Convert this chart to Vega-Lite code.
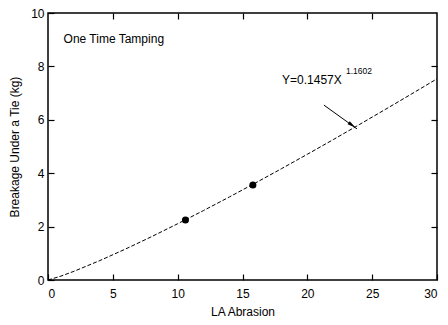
{
  "$schema": "https://vega.github.io/schema/vega-lite/v6.json",
  "width": 389,
  "height": 267,
  "autosize": {"type": "none"},
  "padding": {"left": 48, "top": 13, "right": 11, "bottom": 45},
  "background": "white",
  "config": {
    "view": {"stroke": "black", "strokeWidth": 1.5},
    "font": "Liberation Sans",
    "axis": {"grid": false, "domain": false, "ticks": true, "tickSize": 6, "tickWidth": 1.2, "tickColor": "black", "offset": -6, "labelColor": "black", "titleColor": "black", "labelFont": "Liberation Sans", "titleFont": "Liberation Sans", "labelFontSize": 12, "titleFontSize": 12, "titleFontWeight": "normal"}
  },
  "datasets": {
    "curve": [
      {"x": 0, "y": 0}, {"x": 1, "y": 0.1457}, {"x": 2, "y": 0.3256}, {"x": 4, "y": 0.728},
      {"x": 6, "y": 1.165}, {"x": 8, "y": 1.626}, {"x": 10, "y": 2.107}, {"x": 12, "y": 2.603},
      {"x": 14, "y": 3.113}, {"x": 16, "y": 3.635}, {"x": 18, "y": 4.167}, {"x": 20, "y": 4.709},
      {"x": 22, "y": 5.259}, {"x": 24, "y": 5.818}, {"x": 26, "y": 6.385}, {"x": 28, "y": 6.957},
      {"x": 30, "y": 7.536}
    ],
    "pts": [{"x": 10.6, "y": 2.25}, {"x": 15.8, "y": 3.56}],
    "arrow": [{"x": 21.28, "y": 6.55, "x2": 23.83, "y2": 5.66}],
    "head": [{"x": 23.45, "y": 5.8}],
    "labels": [
      {"x": 1.2, "y": 9.03, "t": "One Time Tamping"}
    ],
    "eq": [{"x": 18.05, "y": 7.49, "t": "Y=0.1457X"}],
    "sup": [{"x": 22.98, "y": 7.83, "t": "1.1602"}]
  },
  "layer": [
    {
      "data": {"name": "curve"},
      "mark": {"type": "line", "color": "black", "strokeWidth": 1, "strokeDash": [4, 2]},
      "encoding": {
        "x": {"field": "x", "type": "quantitative", "scale": {"domain": [0, 30], "nice": false}, "axis": {"orient": "bottom", "title": "LA Abrasion", "values": [0, 5, 10, 15, 20, 25, 30], "labelPadding": 8, "titlePadding": 7}},
        "y": {"field": "y", "type": "quantitative", "scale": {"domain": [0, 10], "nice": false}, "axis": {"orient": "left", "title": "Breakage Under a Tie (kg)", "values": [0, 2, 4, 6, 8, 10], "labelPadding": 4, "titlePadding": 9}}
      }
    },
    {
      "data": {"name": "curve"},
      "mark": {"type": "point", "opacity": 0},
      "encoding": {
        "x": {"field": "x", "type": "quantitative", "axis": {"orient": "top", "title": null, "labels": false, "values": [5, 10, 15, 20, 25]}},
        "y": {"field": "y", "type": "quantitative", "axis": {"orient": "right", "title": null, "labels": false, "values": [2, 4, 6, 8]}}
      }
    },
    {
      "data": {"name": "pts"},
      "mark": {"type": "point", "filled": true, "color": "black", "opacity": 1, "size": 50},
      "encoding": {"x": {"field": "x", "type": "quantitative", "axis": null}, "y": {"field": "y", "type": "quantitative", "axis": null}}
    },
    {
      "data": {"name": "arrow"},
      "mark": {"type": "rule", "color": "black", "strokeWidth": 1},
      "encoding": {"x": {"field": "x", "type": "quantitative", "axis": null}, "y": {"field": "y", "type": "quantitative", "axis": null}, "x2": {"field": "x2"}, "y2": {"field": "y2"}}
    },
    {
      "data": {"name": "head"},
      "mark": {"type": "point", "filled": true, "color": "black", "fill": "black", "opacity": 1, "size": 70, "shape": "M0,-1L0.45,1L-0.45,1Z", "angle": 126},
      "encoding": {"x": {"field": "x", "type": "quantitative", "axis": null}, "y": {"field": "y", "type": "quantitative", "axis": null}}
    },
    {
      "data": {"name": "labels"},
      "mark": {"type": "text", "align": "left", "baseline": "middle", "fontSize": 12, "color": "black"},
      "encoding": {"x": {"field": "x", "type": "quantitative", "axis": null}, "y": {"field": "y", "type": "quantitative", "axis": null}, "text": {"field": "t"}}
    },
    {
      "data": {"name": "eq"},
      "mark": {"type": "text", "align": "left", "baseline": "middle", "fontSize": 12, "color": "black"},
      "encoding": {"x": {"field": "x", "type": "quantitative", "axis": null}, "y": {"field": "y", "type": "quantitative", "axis": null}, "text": {"field": "t"}}
    },
    {
      "data": {"name": "sup"},
      "mark": {"type": "text", "align": "left", "baseline": "middle", "fontSize": 8.5, "color": "black"},
      "encoding": {"x": {"field": "x", "type": "quantitative", "axis": null}, "y": {"field": "y", "type": "quantitative", "axis": null}, "text": {"field": "t"}}
    }
  ],
  "resolve": {"axis": {"x": "independent", "y": "independent"}}
}
